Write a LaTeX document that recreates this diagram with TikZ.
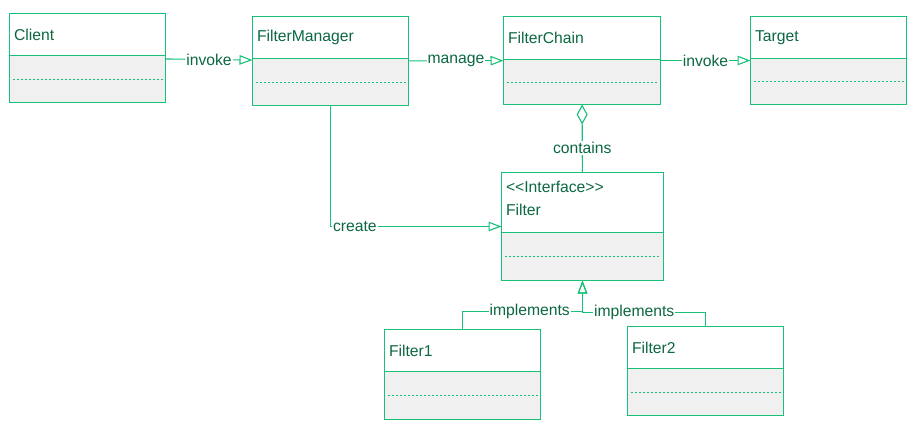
\documentclass[tikz,border=0pt]{standalone}
\usepackage{fontspec}
\setmainfont{Liberation Sans}
\usetikzlibrary{positioning,arrows.meta,calc}
\definecolor{umlline}{RGB}{24,192,120}
\definecolor{umltext}{RGB}{12,104,64}
\definecolor{umlfill}{RGB}{240,240,240}

\begin{document}
\begin{tikzpicture}[
    x=1pt, y=-1pt,
    cls/.style={draw=umlline, line width=1.1pt, fill=umlfill, outer sep=0pt, inner sep=0pt, anchor=north west},
    head/.style={draw=umlline, line width=1.1pt, fill=white, outer sep=0pt, inner xsep=4.5pt, inner ysep=0pt, anchor=north west, align=left, text=umltext, font=\fontsize{15.7pt}{23pt}\selectfont},
    sep/.style={draw=umlline, line width=0.8pt, dash pattern=on 2.5pt off 1.5pt},
    link/.style={draw=umlline, line width=1.1pt},
    lbl/.style={fill=white, text=umltext, inner sep=1pt, font=\fontsize{15.7pt}{18pt}\selectfont},
    >={Triangle[open, length=13pt, width=9.5pt]}
  ]
    \useasboundingbox (0,0) rectangle (916,429);

    % classes: outer box, name compartment, dashed separator
    \node[cls, minimum width=156, minimum height=89] (client) at (9.5,13.5) {};
    \node[head, text width=147, minimum height=42] (clienthd) at (client.north west) {Client};
    \draw[sep] ($(clienthd.south west)!.5!(client.south west)+(3,0)$) -- ($(clienthd.south east)!.5!(client.south east)+(-3,0)$);

    \node[cls, minimum width=156, minimum height=89] (manager) at (252.5,16.5) {};
    \node[head, text width=147, minimum height=42] (managerhd) at (manager.north west) {FilterManager};
    \draw[sep] ($(managerhd.south west)!.5!(manager.south west)+(3,0)$) -- ($(managerhd.south east)!.5!(manager.south east)+(-3,0)$);

    \node[cls, minimum width=157, minimum height=88] (chain) at (503.5,16.5) {};
    \node[head, text width=148, minimum height=43] (chainhd) at (chain.north west) {FilterChain};
    \draw[sep] ($(chainhd.south west)!.5!(chain.south west)+(3,0)$) -- ($(chainhd.south east)!.5!(chain.south east)+(-3,0)$);

    \node[cls, minimum width=156, minimum height=88] (target) at (750.5,16.5) {};
    \node[head, text width=147, minimum height=42] (targethd) at (target.north west) {Target};
    \draw[sep] ($(targethd.south west)!.5!(target.south west)+(3,0)$) -- ($(targethd.south east)!.5!(target.south east)+(-3,0)$);

    \node[cls, minimum width=162, minimum height=108] (filter) at (501.5,172.5) {};
    \node[head, text width=153, text height=20pt, text depth=40pt] (filterhd) at (filter.north west) {<\kern0pt<Interface>\kern0pt>\\Filter};
    \draw[sep] ($(filterhd.south west)!.5!(filter.south west)+(3,0)$) -- ($(filterhd.south east)!.5!(filter.south east)+(-3,0)$);

    \node[cls, minimum width=156, minimum height=90] (filter1) at (384.5,329.5) {};
    \node[head, text width=147, minimum height=42] (filter1hd) at (filter1.north west) {Filter1};
    \draw[sep] ($(filter1hd.south west)!.5!(filter1.south west)+(3,0)$) -- ($(filter1hd.south east)!.5!(filter1.south east)+(-3,0)$);

    \node[cls, minimum width=156, minimum height=89] (filter2) at (627.5,326.5) {};
    \node[head, text width=147, minimum height=42] (filter2hd) at (filter2.north west) {Filter2};
    \draw[sep] ($(filter2hd.south west)!.5!(filter2.south west)+(3,0)$) -- ($(filter2hd.south east)!.5!(filter2.south east)+(-3,0)$);

    % relations
    \draw[link, ->] (client) -- node[lbl] {invoke} (manager);
    \draw[link, ->] (manager) -- node[lbl] {manage} (chain);
    \draw[link, ->] (chain) -- node[lbl] {invoke} (target);
    \draw[link, -{Diamond[open, length=20pt, width=11pt]}] (filter) -- node[lbl, pos=0.36] {contains} (chain);
    \draw[link, ->] (manager) |- node[lbl, pos=0.5, anchor=west, xshift=1pt] {create} (filter);
    \draw[link, ->] (filter1) |- node[lbl, pos=0.78] {implements} ([yshift=-31pt]filter.south) -- (filter);
    \draw[link, ->] (filter2) |- node[lbl, pos=0.79] {implements} ([yshift=-32pt]filter.south) -- (filter);
  \end{tikzpicture}
\end{document}
